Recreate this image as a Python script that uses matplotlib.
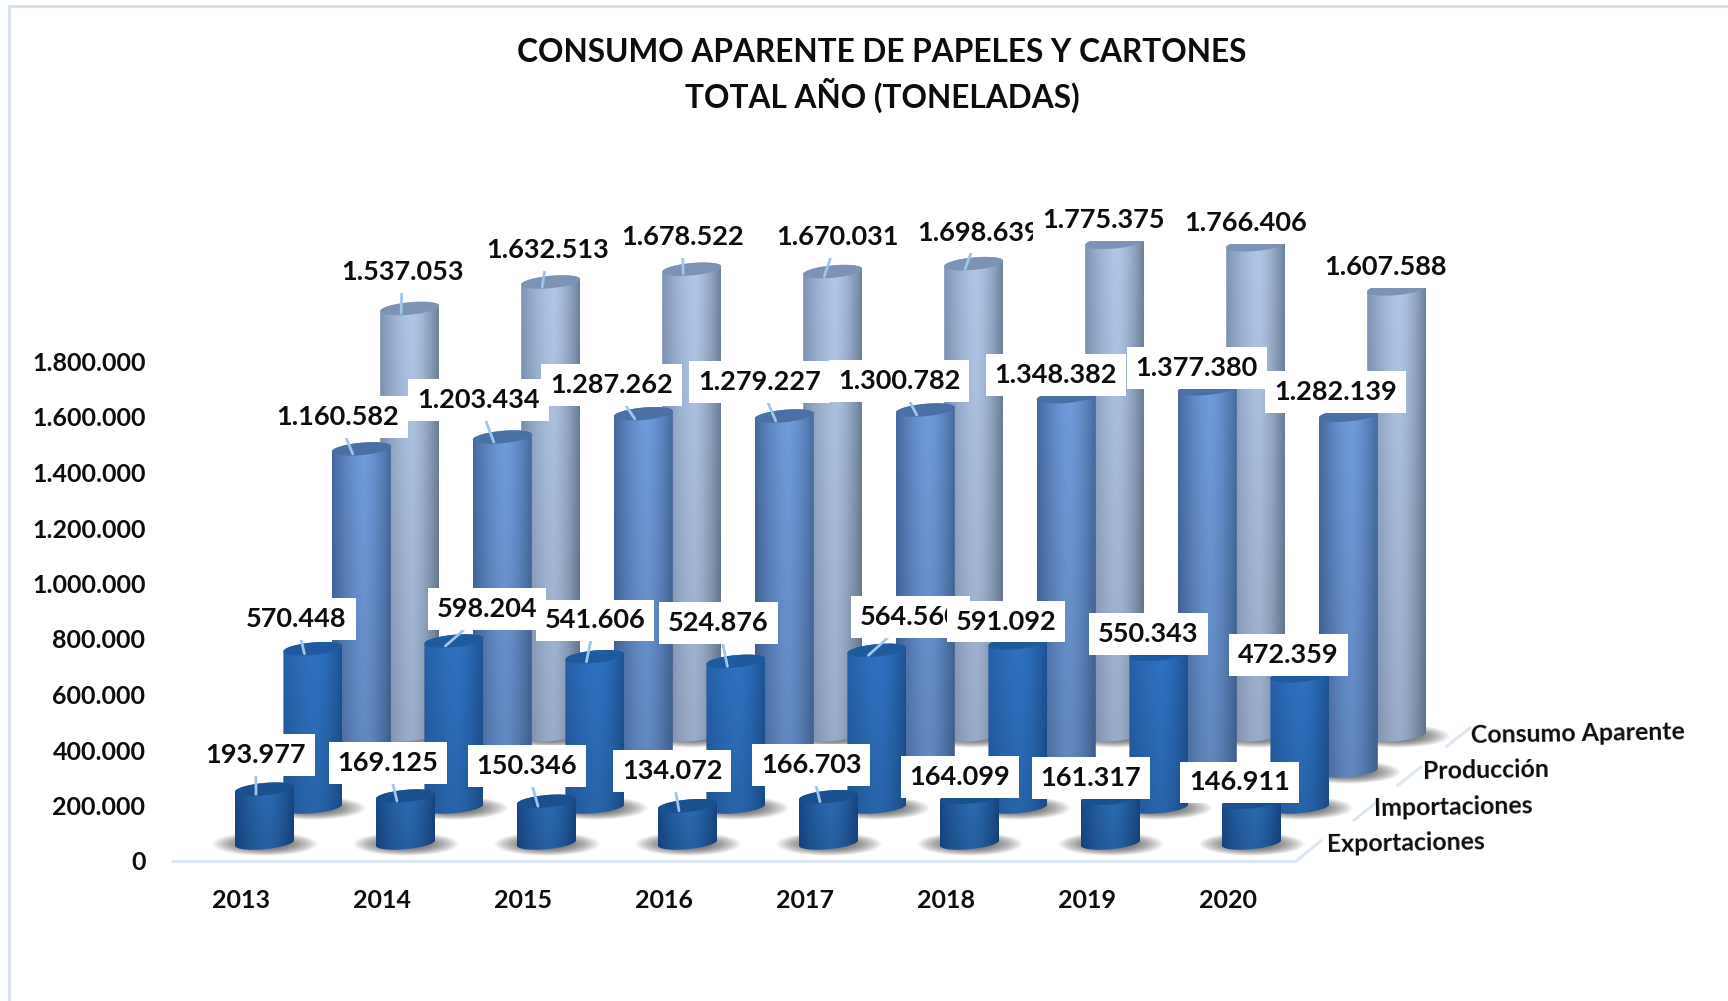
"""Apparent consumption of paper and board, drawn as pseudo-3D cylinders."""

import matplotlib

matplotlib.use("Agg")
import matplotlib.pyplot as plt
import numpy as np
from matplotlib.colors import to_rgb
from matplotlib.lines import Line2D
from matplotlib.patches import Polygon

YEARS = ["2013", "2014", "2015", "2016", "2017", "2018", "2019", "2020"]
SERIES = ["Exportaciones", "Importaciones", "Producción", "Consumo Aparente"]
EXPORTACIONES = [193977, 169125, 150346, 134072, 166703, 164099, 161317, 146911]
IMPORTACIONES = [570448, 598204, 541606, 524876, 564560, 591092, 550343, 472359]
PRODUCCION = [1160582, 1203434, 1287262, 1279227, 1300782, 1348382, 1377380, 1282139]
CONSUMO = [1537053, 1632513, 1678522, 1670031, 1698639, 1775375, 1766406, 1607588]
Y_TICKS = [0, 200000, 400000, 600000, 800000, 1000000, 1200000, 1400000, 1600000, 1800000]

# layout, in pixels of the 1728x1001 picture
W, H = 1728, 1001
AXIS_LEFT, AXIS_BOTTOM = 171, 861
PX_PER_YEAR = 141.0
PX_PER_VALUE = 277.5e-6
FIRST_X = 264.5
SERIES_DX, SERIES_DY = 48.4, 36.0
FLOOR_GAP = 18.0
RX, RY, SHEAR = 29.5, 6.2, 0.09
LABEL_DROP = 2.2
LAST_LEADER = 4  # the 2018-2020 labels have no visible leader line

# label centres as read from the 1568-wide view, per series
SHRINK = 1728 / 1568
LABEL_X = [
    [232, 352, 478, 610, 736, 871, 990, 1125],
    [269, 442, 540, 652, 826, 913, 1042, 1169],
    [306, 434, 555, 689, 816, 958, 1086, 1212],
    [365, 497, 619, 760, 888, 1001, 1130, 1257],
]
LABEL_Y = [
    [683, 690, 693, 698, 692, 703, 704, 708],
    [560, 551, 561, 563, 558, 562, 573, 592],
    [376, 361, 347, 345, 344, 338, 332, 354],
    [245, 225, 213, 213, 209, 198, 200, 240],
]

# left edge, centre, right edge, top ellipse
COLORS = [
    ("#184a8a", "#2c6db6", "#174784", "#1b508f"),
    ("#2660a8", "#2f73c4", "#1e5496", "#1f5a9f"),
    ("#46699f", "#709cdc", "#466a9e", "#4a70a6"),
    ("#7f93b4", "#b2c7e8", "#6f829b", "#7d93b5"),
]
LEADER = "#9fc5e8"
FLOOR = "#dce6f2"
INK = "#0d0d0d"
FONT = "Lato"

plt.rcParams["font.family"] = [FONT, "DejaVu Sans"]
plt.rcParams["font.weight"] = "bold"

fig = plt.figure(figsize=(W / 100, H / 100), dpi=100, facecolor="white")
ax = fig.add_axes([AXIS_LEFT / W, (H - AXIS_BOTTOM) / H, 1 - AXIS_LEFT / W, AXIS_BOTTOM / H])


def outline(cx, cy, t):
    """Points of a slightly tilted ellipse around a cylinder centre, data units."""
    px = RX * np.cos(t)
    py = RY * np.sin(t) + SHEAR * RX * np.cos(t)
    return cx + px / PX_PER_YEAR, cy + py / PX_PER_VALUE


def gradient(cols, n=96):
    left, mid, right, _ = [np.array(to_rgb(c)) for c in cols]
    u = np.linspace(0, 1, n)
    w = np.clip(np.abs(u - 0.55) / np.where(u < 0.55, 0.55, 0.45), 0, 1) ** 1.5
    side = np.where(u[:, None] < 0.55, left, right)
    row = mid * (1 - w[:, None]) + side * w[:, None]
    shade = np.linspace(1.0, 0.86, n)[:, None, None]
    return row[None, :, :] * shade


def draw_shadow(cx, cy, z):
    yy, xx = np.mgrid[-1:1:60j, -1:1:120j]
    alpha = np.clip(1 - (xx**2 + yy**2), 0, 1) * 0.85
    img = np.zeros((60, 120, 4))
    img[..., :3] = 0.30
    img[..., 3] = alpha
    hw, hh = 54 / PX_PER_YEAR, 12 / PX_PER_VALUE
    ax.imshow(img, extent=[cx - hw, cx + hw, cy - hh, cy + hh], aspect="auto",
              interpolation="bilinear", zorder=z)


def draw_cylinder(cx, base, value, cols, z):
    top = base + value
    draw_shadow(cx, base - 1 / PX_PER_VALUE, z)
    t_low = np.linspace(np.pi, 2 * np.pi, 60)
    t_up = np.linspace(0, np.pi, 60)
    bx, by = outline(cx, base, t_low)
    tx, ty = outline(cx, top, t_up)
    verts = np.column_stack([np.r_[bx, tx], np.r_[by, ty]])
    hw = RX / PX_PER_YEAR
    pad = 14 / PX_PER_VALUE
    im = ax.imshow(gradient(cols), extent=[cx - hw, cx + hw, base - pad, top + pad],
                   aspect="auto", interpolation="bilinear", zorder=z + 0.1)
    im.set_clip_path(Polygon(verts, closed=True, transform=ax.transData))
    ex, ey = outline(cx, top, np.linspace(0, 2 * np.pi, 120))
    ax.fill(ex, ey, color=cols[3], lw=0, zorder=z + 0.2)


values = [EXPORTACIONES, IMPORTACIONES, PRODUCCION, CONSUMO]
for s in range(3, -1, -1):
    base = (FLOOR_GAP + SERIES_DY * s) / PX_PER_VALUE
    for i, v in enumerate(values[s]):
        cx = i + s * SERIES_DX / PX_PER_YEAR
        draw_cylinder(cx, base, v, COLORS[s], 10 * (4 - s) + i * 0.5)

# data labels go above all the cylinders, later ones cover earlier ones
z = 100
leader_kw = dict(arrowstyle="-", color=LEADER, lw=2, shrinkA=0, shrinkB=0)
for s in range(3, -1, -1):
    base = (FLOOR_GAP + SERIES_DY * s) / PX_PER_VALUE
    for i, v in enumerate(values[s]):
        cx = i + s * SERIES_DX / PX_PER_YEAR
        z += 1
        ax.annotate(
            f"{v:,}".replace(",", "."),
            xy=(cx - 8.5 / PX_PER_YEAR, base + v - 5 / PX_PER_VALUE),
            xytext=(LABEL_X[s][i] * SHRINK, H - LABEL_Y[s][i] * SHRINK - LABEL_DROP),
            textcoords="figure pixels",
            ha="center", va="center", fontsize=19.5, color=INK, zorder=z,
            bbox=dict(boxstyle="square,pad=0.33", fc="white", ec="none"),
            arrowprops=leader_kw if i <= LAST_LEADER else None,
            annotation_clip=False,
        )

# floor lines and series names on the depth axis
floor_kw = dict(color=FLOOR, lw=2.2, solid_capstyle="butt", transform=fig.transFigure)
fig.add_artist(Line2D([AXIS_LEFT / W, 1295 / W], [(H - 861) / H] * 2, **floor_kw))
for (x0, y0), (x1, y1) in [((1295, 862), (1322, 840)), ((1353, 821), (1378, 801)),
                           ((1397, 786), (1422, 766)), ((1446, 747), (1471, 727))]:
    fig.add_artist(Line2D([x0 / W, x1 / W], [(H - y0) / H, (H - y1) / H], **floor_kw))
for name, x, y in zip(SERIES, [1327, 1374, 1423, 1471], [845, 809, 772, 736]):
    fig.text(x / W, (H - y) / H, name, ha="left", va="center", fontsize=17.9,
             color=INK, rotation=1, rotation_mode="anchor")

# picture frame
frame_kw = dict(color="#d5e1ef", lw=2, transform=fig.transFigure)
fig.add_artist(Line2D([9 / W, 9 / W], [0, (H - 6) / H], **frame_kw))
fig.add_artist(Line2D([9 / W, 1], [(H - 6) / H] * 2, **frame_kw))

fig.text(882 / W, (H - 53) / H, "CONSUMO APARENTE DE PAPELES Y CARTONES",
         ha="center", va="center", fontsize=22.75, color=INK)
fig.text(882 / W, (H - 95.5) / H, "TOTAL AÑO (TONELADAS)",
         ha="center", va="center", fontsize=22.75, color=INK)

ax.set_xlim((AXIS_LEFT - FIRST_X) / PX_PER_YEAR, (W - FIRST_X) / PX_PER_YEAR)
ax.set_ylim(0, AXIS_BOTTOM / PX_PER_VALUE)
ax.set_xticks(np.arange(len(YEARS)) - 23.5 / PX_PER_YEAR)
ax.set_xticklabels(YEARS)
ax.set_yticks(Y_TICKS)
ax.set_yticklabels([f"{t:,}".replace(",", ".") for t in Y_TICKS])
ax.tick_params(length=0, labelsize=18, labelcolor=INK)
ax.tick_params(axis="x", pad=20.5)
ax.tick_params(axis="y", pad=18.4)
for spine in ax.spines.values():
    spine.set_visible(False)
ax.patch.set_visible(False)

fig.savefig("out.png", dpi=100, facecolor="white")
